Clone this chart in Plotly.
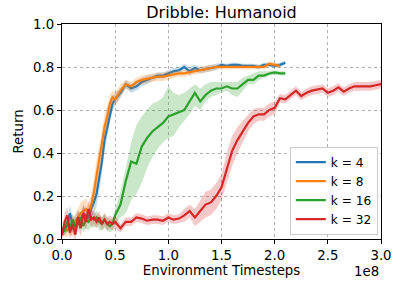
import plotly.graph_objects as go

# x grid (units of 1e8 timesteps)
x_early = [round(i * 0.025, 3) for i in range(21)]          # 0.00 .. 0.50
def late(end):
    n = int(round((end - 0.5) / 0.05))
    return [round(0.5 + 0.05 * i, 3) for i in range(1, n + 1)]

x_k4 = x_early + late(2.1)
x_k8 = x_early + late(2.05)
x_k16 = x_early + late(2.1)
x_k32 = x_early + late(3.0)

ret_k4 = [0.03, 0.05, 0.06, 0.12, 0.06, 0.08, 0.10, 0.09, 0.12, 0.11, 0.10, 0.14, 0.17, 0.21, 0.28, 0.36, 0.46, 0.52, 0.58, 0.63, 0.65,
          0.68, 0.72, 0.70, 0.71, 0.73, 0.74, 0.75, 0.76, 0.76, 0.77, 0.78, 0.785, 0.80, 0.78, 0.795, 0.785, 0.79, 0.795, 0.80, 0.81,
          0.805, 0.81, 0.81, 0.805, 0.805, 0.805, 0.80, 0.81, 0.81, 0.805, 0.81, 0.82]
spr_k4 = [0.02, 0.03, 0.03, 0.04, 0.03, 0.03, 0.03, 0.03, 0.04, 0.03, 0.03, 0.04, 0.05, 0.06, 0.06, 0.06, 0.05, 0.05, 0.04, 0.03, 0.03,
          0.02, 0.02, 0.02, 0.02, 0.02, 0.02, 0.015, 0.015, 0.015, 0.015, 0.015, 0.015, 0.015, 0.02, 0.015, 0.015, 0.015, 0.015, 0.015, 0.01,
          0.01, 0.01, 0.01, 0.01, 0.01, 0.01, 0.01, 0.01, 0.01, 0.01, 0.01, 0.01]

ret_k8 = [0.03, 0.04, 0.04, 0.06, 0.05, 0.08, 0.10, 0.12, 0.13, 0.14, 0.12, 0.16, 0.22, 0.30, 0.36, 0.44, 0.52, 0.57, 0.63, 0.66, 0.65,
          0.69, 0.72, 0.71, 0.73, 0.74, 0.745, 0.75, 0.755, 0.755, 0.76, 0.765, 0.77, 0.77, 0.775, 0.78, 0.785, 0.79, 0.795, 0.80, 0.80,
          0.80, 0.80, 0.80, 0.80, 0.80, 0.80, 0.80, 0.80, 0.815, 0.81, 0.805]
spr_k8 = [0.02, 0.03, 0.03, 0.04, 0.04, 0.04, 0.04, 0.05, 0.05, 0.05, 0.04, 0.05, 0.06, 0.07, 0.07, 0.07, 0.06, 0.05, 0.04, 0.03, 0.03,
          0.03, 0.02, 0.02, 0.02, 0.02, 0.02, 0.02, 0.02, 0.02, 0.02, 0.015, 0.015, 0.015, 0.015, 0.015, 0.015, 0.015, 0.015, 0.01, 0.01,
          0.01, 0.01, 0.01, 0.01, 0.01, 0.01, 0.01, 0.01, 0.01, 0.01, 0.01]

ret_k16 = [0.03, 0.04, 0.08, 0.05, 0.09, 0.06, 0.07, 0.10, 0.06, 0.09, 0.08, 0.10, 0.09, 0.10, 0.08, 0.07, 0.09, 0.07, 0.06, 0.07, 0.11,
           0.16, 0.27, 0.36, 0.35, 0.43, 0.47, 0.50, 0.52, 0.54, 0.57, 0.58, 0.59, 0.60, 0.64, 0.68, 0.64, 0.67, 0.69, 0.70, 0.70,
           0.71, 0.70, 0.70, 0.72, 0.74, 0.74, 0.76, 0.76, 0.77, 0.775, 0.77, 0.77]
lo_k16 = [0.01, 0.02, 0.04, 0.02, 0.05, 0.03, 0.04, 0.06, 0.03, 0.05, 0.04, 0.06, 0.05, 0.06, 0.04, 0.04, 0.05, 0.04, 0.03, 0.04, 0.07,
          0.10, 0.12, 0.18, 0.21, 0.26, 0.33, 0.38, 0.42, 0.45, 0.47, 0.48, 0.52, 0.55, 0.58, 0.62, 0.60, 0.64, 0.66, 0.67, 0.68,
          0.69, 0.67, 0.66, 0.69, 0.72, 0.72, 0.74, 0.75, 0.76, 0.765, 0.76, 0.76]
hi_k16 = [0.05, 0.06, 0.11, 0.08, 0.12, 0.09, 0.10, 0.13, 0.09, 0.12, 0.11, 0.13, 0.12, 0.13, 0.11, 0.10, 0.12, 0.10, 0.09, 0.10, 0.14,
          0.22, 0.33, 0.45, 0.53, 0.57, 0.60, 0.63, 0.64, 0.66, 0.71, 0.68, 0.67, 0.68, 0.70, 0.72, 0.70, 0.72, 0.73, 0.73, 0.73,
          0.73, 0.73, 0.73, 0.75, 0.76, 0.77, 0.78, 0.78, 0.78, 0.785, 0.78, 0.78]

ret_k32 = [0.02, 0.08, 0.11, 0.03, 0.07, 0.02, 0.10, 0.05, 0.12, 0.08, 0.14, 0.09, 0.10, 0.08, 0.10, 0.07, 0.09, 0.07, 0.08, 0.07, 0.08,
           0.05, 0.08, 0.08, 0.10, 0.095, 0.085, 0.09, 0.09, 0.085, 0.10, 0.09, 0.095, 0.11, 0.13, 0.10, 0.13, 0.16, 0.17, 0.20, 0.24,
           0.33, 0.41, 0.46, 0.50, 0.54, 0.57, 0.58, 0.58, 0.60, 0.61, 0.655, 0.65, 0.67, 0.69, 0.665, 0.68, 0.69, 0.695, 0.70, 0.68,
           0.69, 0.705, 0.685, 0.70, 0.71, 0.71, 0.71, 0.71, 0.715, 0.72]
spr_k32 = [0.02, 0.04, 0.04, 0.03, 0.04, 0.03, 0.04, 0.04, 0.04, 0.04, 0.04, 0.04, 0.03, 0.03, 0.03, 0.03, 0.03, 0.03, 0.03, 0.03, 0.03,
           0.02, 0.02, 0.02, 0.02, 0.02, 0.02, 0.02, 0.02, 0.02, 0.02, 0.02, 0.02, 0.03, 0.03, 0.04, 0.05, 0.06, 0.06, 0.06, 0.06,
           0.07, 0.07, 0.06, 0.05, 0.04, 0.035, 0.03, 0.03, 0.03, 0.03, 0.02, 0.02, 0.02, 0.02, 0.02, 0.02, 0.02, 0.02, 0.02, 0.02,
           0.02, 0.02, 0.02, 0.02, 0.02, 0.02, 0.02, 0.02, 0.02, 0.02]

series = [
    ("k = 4", x_k4, ret_k4, [m - s for m, s in zip(ret_k4, spr_k4)], [m + s for m, s in zip(ret_k4, spr_k4)], "31,119,180"),
    ("k = 8", x_k8, ret_k8, [m - s for m, s in zip(ret_k8, spr_k8)], [m + s for m, s in zip(ret_k8, spr_k8)], "255,127,14"),
    ("k = 16", x_k16, ret_k16, lo_k16, hi_k16, "44,160,44"),
    ("k = 32", x_k32, ret_k32, [m - s for m, s in zip(ret_k32, spr_k32)], [m + s for m, s in zip(ret_k32, spr_k32)], "214,39,40"),
]

fig = go.Figure()
for name, xs, ys, lo, hi, rgb in series:
    fig.add_trace(go.Scatter(
        x=xs + xs[::-1], y=hi + lo[::-1], fill="toself",
        fillcolor=f"rgba({rgb},0.25)", line=dict(width=0),
        showlegend=False, hoverinfo="skip", mode="lines"))
    fig.add_trace(go.Scatter(
        x=xs, y=ys, mode="lines", name=name,
        line=dict(color=f"rgb({rgb})", width=2.2)))

font = "DejaVu Sans"
fig.update_layout(
    width=394, height=282,
    margin=dict(l=62, r=2, t=24, b=43),
    paper_bgcolor="white", plot_bgcolor="white",
    font=dict(family=font, size=13.3, color="black"),
    title=dict(text="Dribble: Humanoid", x=0.5, xref="paper", y=1, yref="container",
               yanchor="top", pad=dict(t=7), font=dict(size=16, family=font)),
    showlegend=True,
    legend=dict(x=0.99, y=0.02, xanchor="right", yanchor="bottom",
                bgcolor="white", bordercolor="#cccccc", borderwidth=1,
                font=dict(size=12.2, family=font), tracegroupgap=0),
    annotations=[dict(text="1e8", x=1, xref="paper", y=0, yref="paper",
                      xanchor="right", yanchor="top", yshift=-23, showarrow=False,
                      font=dict(size=13.3, family=font))],
)
fig.update_xaxes(range=[0, 3], tickvals=[0, 0.5, 1, 1.5, 2, 2.5, 3],
                 ticktext=["0.0", "0.5", "1.0", "1.5", "2.0", "2.5", "3.0"],
                 ticklabeloverflow="allow",
                 showgrid=True, gridcolor="#b0b0b0", griddash="dot", gridwidth=1,
                 showline=True, linecolor="black", linewidth=1.2, mirror=True,
                 ticks="outside", ticklen=4, tickcolor="black", zeroline=False,
                 title=dict(text="Environment Timesteps", standoff=2, font=dict(size=13.3)))
fig.update_yaxes(range=[0, 1], tickvals=[0, 0.2, 0.4, 0.6, 0.8, 1.0],
                 ticktext=["0.0", "0.2", "0.4", "0.6", "0.8", "1.0"],
                 showgrid=True, gridcolor="#b0b0b0", griddash="dot", gridwidth=1,
                 showline=True, linecolor="black", linewidth=1.2, mirror=True,
                 ticks="outside", ticklen=4, tickcolor="black", zeroline=False,
                 title=dict(text="Return", standoff=6, font=dict(size=13.3)))

# remove the browser's default 8px body margin so the figure fills the window
fig.write_html("out.html", config={"displayModeBar": False},
               post_script="document.body.style.margin='0px';")
